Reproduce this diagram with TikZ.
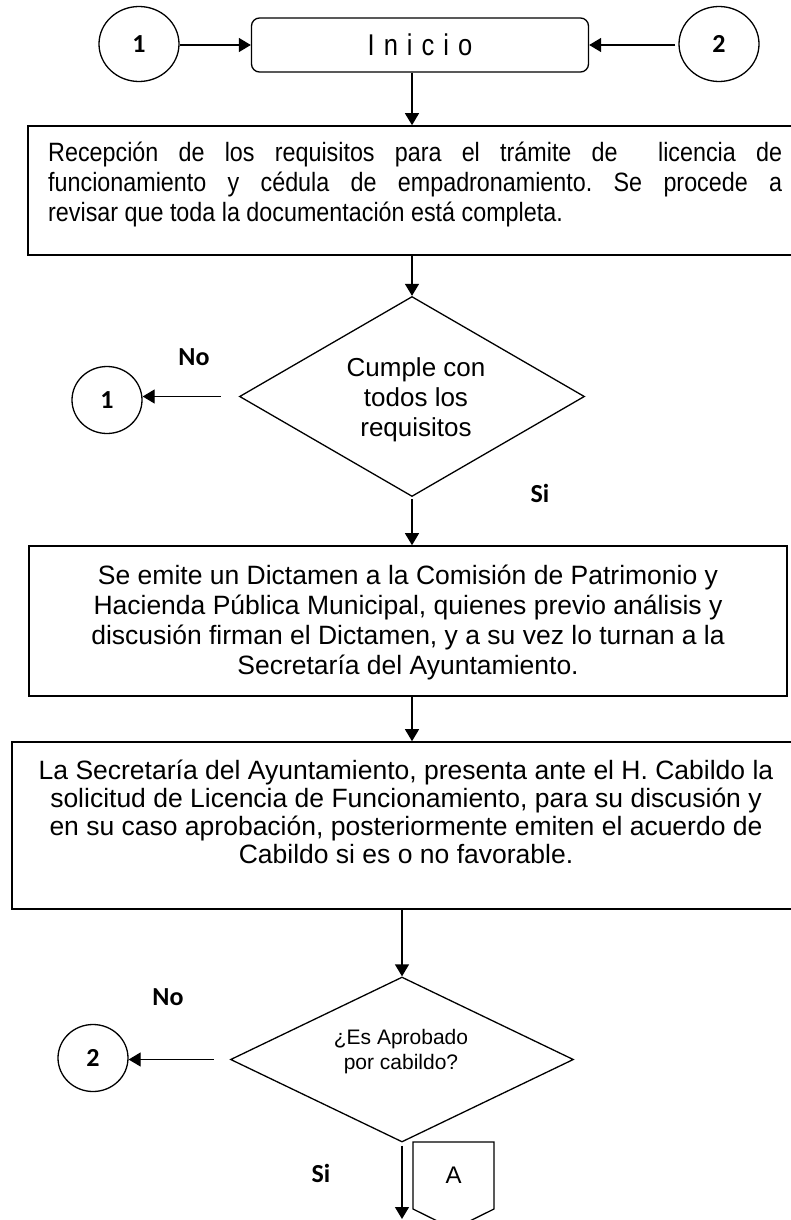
\documentclass[tikz,border=0pt]{standalone}
\usepackage{fontspec}
\setmainfont{Liberation Sans}
\newfontfamily\calfont{Carlito}
\newfontfamily\inifont[LetterSpace=30,FakeStretch=0.85]{Liberation Sans}
\newfontfamily\boxtwofont[FakeStretch=0.88]{Liberation Sans}
\usetikzlibrary{arrows.meta,shapes.geometric}
\newcommand{\cln}[2]{\hbox to #1{\hfil #2\hfil}}
\newcommand{\jln}[2]{\hbox to #1{#2}}
\newcommand{\stk}[2]{\vtop{\baselineskip=#1\lineskiplimit=-100pt\lineskip=0pt #2}}
\frenchspacing
\begin{document}
\begin{tikzpicture}[x=1pt,y=-1pt,
  arr/.style={draw, line width=1.3pt, -{Triangle[length=12pt,width=14pt]}},
  procbox/.style={draw, line width=1.6pt, rectangle, inner sep=0pt},
  conn/.style={draw, ellipse, line width=1.3pt, minimum width=70pt, minimum height=67pt, inner sep=0pt,
               font=\calfont\bfseries\fontsize{26}{30}\selectfont},
  bigconn/.style={conn, minimum width=80pt, minimum height=75pt},
  lbl/.style={inner sep=0pt, font=\calfont\bfseries\fontsize{26}{30}\selectfont},
  dec/.style={draw, diamond, line width=1.3pt, inner sep=0pt},
  txt/.style={inner sep=0pt}
]
\fill[white] (0,0) rectangle (791,1220);
\useasboundingbox (0,0) rectangle (791,1220);

% top row
\node[bigconn] (c1a) at (139,44) {1};
\node[draw, rounded corners=8pt, line width=1.3pt, minimum width=337pt, minimum height=54pt, inner sep=0pt]
  (ini) at (420,45) {\inifont\fontsize{30}{34}\selectfont Inicio};
\node[bigconn] (c2a) at (719,44) {2};
\draw[arr] (c1a.east |- ini.west) -- (ini.west);
\draw[arr] ([xshift=-3pt]c2a.west |- ini.east) -- (ini.east);

% box 2
\node[procbox, minimum width=768pt, minimum height=129pt] (box2) at (412,190.5) {};
\node[txt, anchor=base west, font=\boxtwofont\fontsize{26.5}{30}\selectfont] (t2) at (48,161)
  {\stk{30pt}{\jln{734pt}{Recepción de los requisitos para el trámite de\ \ licencia de}%
   \jln{734pt}{funcionamiento y cédula de empadronamiento. Se procede a}%
   \hbox{revisar que toda la documentación está completa.}}};
\draw[arr] (ini.south -| box2.north) -- (box2.north);

% decision 1
\node[dec, minimum width=345pt, minimum height=200pt] (d1) at (412,396.5) {};
\node[txt, anchor=base, font=\fontsize{26}{30}\selectfont] (t3) at (416,376)
  {\stk{30pt}{\cln{200pt}{Cumple con}\cln{200pt}{todos los}\cln{200pt}{requisitos}}};
\draw[arr] (box2.south -| d1.north) -- (d1.north);
\node[conn] (c1b) at (107,400) {1};
\draw[arr] ([xshift=-18pt]d1.west) -- (d1.west -| c1b.east);
\node[lbl] (no1) at (194,357) {No};
\node[lbl] (si1) at (540,493) {Si};

% box 3
\node[procbox, minimum width=758pt, minimum height=150pt] (box3) at (408,621) {};
\node[txt, anchor=base, font=\fontsize{26.5}{30}\selectfont] (t4) at (408,584)
  {\stk{30pt}{\cln{750pt}{Se emite un Dictamen a la Comisión de Patrimonio y}%
   \cln{750pt}{Hacienda Pública Municipal, quienes previo análisis y}%
   \cln{750pt}{discusión firman el Dictamen, y a su vez lo turnan a la}%
   \cln{750pt}{Secretaría del Ayuntamiento.}}};
\draw[arr, shorten <=2pt] (d1.south) -- (d1.south |- box3.north);

% box 4
\node[procbox, minimum width=788pt, minimum height=167pt] (box4) at (406,825.5) {};
\node[txt, anchor=base, font=\fontsize{26.5}{30}\selectfont] (t5) at (406,779)
  {\stk{28pt}{\cln{780pt}{La Secretaría del Ayuntamiento, presenta ante el H. Cabildo la}%
   \cln{780pt}{solicitud de Licencia de Funcionamiento, para su discusión y}%
   \cln{780pt}{en su caso aprobación, posteriormente emiten el acuerdo de}%
   \cln{780pt}{Cabildo si es o no favorable.}}};
\draw[arr] (d1.south |- box3.south) -- (d1.south |- box4.north);

% decision 2
\node[dec, minimum width=343pt, minimum height=165pt] (d2) at (402,1059.5) {};
\node[txt, anchor=base, font=\fontsize{21}{25}\selectfont] (t6) at (401,1044)
  {\stk{25pt}{\cln{200pt}{¿Es Aprobado}\cln{200pt}{por cabildo?}}};
\draw[arr] (d2.north |- box4.south) -- (d2.north);
\node[conn] (c2b) at (93,1058) {2};
\draw[arr] ([xshift=-16pt]d2.west) -- (d2.west -| c2b.east);
\node[lbl] (no2) at (168,997) {No};
\node[lbl] (si2) at (321,1173) {Si};

% exit
\coordinate (endA) at (402,1219);
\draw[arr, shorten <=3pt] (d2.south) -- (endA);
\draw[line width=1.3pt] (413,1142) -- (494,1142) -- (494,1209) -- (453.5,1229) -- (413,1209) -- cycle;
\node[txt, font=\fontsize{24}{28}\selectfont] (pa) at (453.5,1175) {A};
\end{tikzpicture}
\end{document}
